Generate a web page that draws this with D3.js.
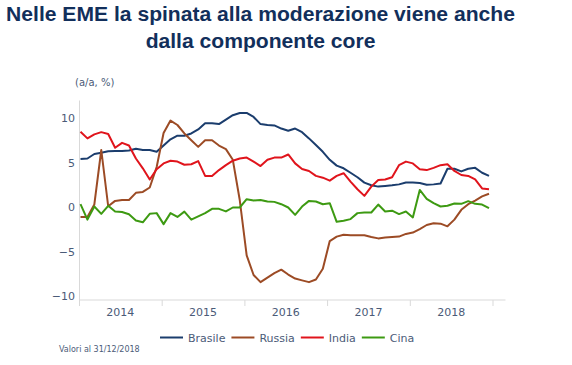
<!DOCTYPE html>
<html>
<head>
<meta charset="utf-8">
<script src="https://cdn.jsdelivr.net/npm/d3@7"></script>
<style>
  body { margin: 0; background: #fff; }
  svg { display: block; }
</style>
</head>
<body>
<div id="chart"></div>
<script>
// core inflation, a/a %, monthly Jan 2014 - Dec 2018
const years = [2014, 2015, 2016, 2017, 2018];
const yTicks = [-10, -5, 0, 5, 10];
const seriesNames = ["Brasile", "Russia", "India", "Cina"];
const seriesColors = ["#1b3d6d", "#9c4b25", "#e0141c", "#3d9a12"];

const brasile = [5.4, 5.45, 5.95, 6.1, 6.25, 6.3, 6.3, 6.35, 6.55, 6.4, 6.4, 6.2,
  6.9, 7.6, 8.0, 8.0, 8.25, 8.7, 9.4, 9.4, 9.3, 9.8, 10.3, 10.55,
  10.55, 10.1, 9.3, 9.2, 9.15, 8.8, 8.55, 8.8, 8.4, 7.7, 6.95, 6.2,
  5.3, 4.65, 4.35, 3.85, 3.35, 2.75, 2.45, 2.3, 2.38, 2.45, 2.55, 2.75,
  2.75, 2.7, 2.5, 2.55, 2.65, 4.3, 4.3, 4.0, 4.3, 4.4, 3.85, 3.5];
const russia = [-1.1, -1.1, 0.3, 6.4, 0.1, 0.7, 0.8, 0.8, 1.6, 1.7, 2.2, 4.5,
  8.3, 9.7, 9.2, 8.25, 7.5, 6.75, 7.5, 7.5, 6.9, 6.5, 5.3, 0.8,
  -5.4, -7.6, -8.4, -7.9, -7.4, -7.0, -7.55, -8.0, -8.2, -8.4, -8.1, -6.9,
  -3.8, -3.3, -3.1, -3.15, -3.15, -3.15, -3.35, -3.5, -3.4, -3.35, -3.3, -3.0,
  -2.85, -2.45, -2.0, -1.8, -1.85, -2.15, -1.4, -0.3, 0.33, 0.74, 1.2, 1.5];
const india = [8.45, 7.7, 8.15, 8.4, 8.2, 6.65, 7.2, 6.9, 5.45, 4.35, 3.1, 4.25,
  4.9, 5.2, 5.1, 4.75, 4.8, 5.15, 3.5, 3.5, 4.15, 4.7, 5.2, 5.45,
  5.55, 5.1, 4.6, 5.3, 5.55, 5.55, 5.9, 4.9, 4.27, 4.05, 3.5, 3.3,
  2.97, 3.5, 3.8, 2.86, 2.0, 1.26, 2.3, 3.05, 3.1, 3.35, 4.7, 5.1,
  4.9, 4.25, 4.15, 4.4, 4.7, 4.8, 4.05, 3.6, 3.5, 3.1, 2.1, 2.0];
const cina = [0.33, -1.4, 0.07, -0.75, 0.15, -0.5, -0.55, -0.8, -1.5, -1.7, -0.75, -0.67,
  -1.9, -0.67, -1.1, -0.5, -1.4, -1.04, -0.67, -0.19, -0.19, -0.48, -0.04, -0.04,
  0.89, 0.74, 0.81, 0.63, 0.59, 0.33, -0.04, -0.86, 0.07, 0.7, 0.63, 0.33,
  0.44, -1.64, -1.53, -1.34, -0.67, -0.6, -0.6, 0.29, -0.49, -0.4, -0.78, -0.49,
  -1.15, 1.93, 0.93, 0.44, 0.07, 0.15, 0.4, 0.37, 0.67, 0.37, 0.29, -0.11];

const months = d3.timeMonth.range(new Date(2014, 0, 1), new Date(2019, 0, 1));

const W = 572, H = 365;
const textColor = "#4b5b78";
const axisColor = "#d9d9d9";

function makeSvg(container) {
    return d3.select(container).append("svg")
        .attr("width", W)
        .attr("height", H)
        .style("font-family", "'DejaVu Sans', sans-serif");
}

function fitText(sel, targetWidth) {
    // shrink/grow title font so the line spans the same width as the original
    const node = sel.node();
    const size = parseFloat(sel.attr("font-size"));
    const w = node.getComputedTextLength();
    sel.attr("font-size", (size * targetWidth / w).toFixed(2));
}

function drawTitle(svg) {
    const t1 = svg.append("text")
        .attr("x", 260.5).attr("y", 20.7)
        .attr("text-anchor", "middle")
        .attr("font-family", "'Liberation Sans', Arial, sans-serif")
        .attr("font-weight", "bold")
        .attr("font-size", 20)
        .attr("fill", "#122f5b")
        .text("Nelle EME la spinata alla moderazione viene anche");
    fitText(t1, 509);
    const t2 = svg.append("text")
        .attr("x", 260.5).attr("y", 48.3)
        .attr("text-anchor", "middle")
        .attr("font-family", "'Liberation Sans', Arial, sans-serif")
        .attr("font-weight", "bold")
        .attr("font-size", t1.attr("font-size"))
        .attr("fill", "#122f5b")
        .text("dalla componente core");

    svg.append("text")
        .attr("x", 75).attr("y", 85.5)
        .attr("font-size", 10)
        .attr("fill", textColor)
        .text("(a/a, %)");
}

function drawAxes(svg, yScale, yearScale) {
    // y axis: plain line + labels
    const yAxis = svg.append("g")
        .attr("transform", "translate(79,0)")
        .call(d3.axisLeft(yScale).tickValues(yTicks).tickSize(0).tickPadding(4));
    yAxis.select(".domain").attr("stroke", axisColor).attr("stroke-width", 1);
    yAxis.selectAll("text")
        .attr("font-size", 11)
        .attr("font-family", "'DejaVu Sans', sans-serif")
        .attr("fill", textColor);

    // x axis: year boundaries as ticks, year labels in the middle
    const bounds = years.concat([years[years.length - 1] + 1]);
    const xAxis = svg.append("g")
        .attr("transform", "translate(0,300)")
        .call(d3.axisBottom(yearScale).tickValues(bounds).tickSize(6).tickFormat(""));
    xAxis.select(".domain").remove();
    xAxis.append("line")
        .attr("x1", yearScale.range()[0]).attr("x2", 505.5)
        .attr("stroke", axisColor);
    xAxis.selectAll(".tick line").attr("stroke", axisColor);

    svg.append("g")
        .selectAll("text")
        .data(years)
        .enter().append("text")
        .attr("x", d => yearScale(d + 0.5))
        .attr("y", 316)
        .attr("text-anchor", "middle")
        .attr("font-size", 11)
        .attr("fill", textColor)
        .text(d => d);
}

function drawLines(svg, x, y) {
    const allSeries = [brasile, russia, india, cina];
    const line = d3.line()
        .x((d, i) => x(months[i]))
        .y(d => y(d));
    svg.append("g")
        .selectAll("path")
        .data(allSeries)
        .enter().append("path")
        .attr("d", d => line(d))
        .attr("fill", "none")
        .attr("stroke", (d, i) => seriesColors[i])
        .attr("stroke-width", 2)
        .attr("stroke-linejoin", "round");
}

function drawLegend(svg) {
    const g = svg.append("g").attr("font-size", 11);
    let cx = 160;
    seriesNames.forEach((name, i) => {
        g.append("line")
            .attr("x1", cx).attr("x2", cx + 23)
            .attr("y1", 337.5).attr("y2", 337.5)
            .attr("stroke", seriesColors[i])
            .attr("stroke-width", 2);
        const t = g.append("text")
            .attr("x", cx + 28).attr("y", 341.5)
            .attr("fill", textColor)
            .text(name);
        cx += 28 + t.node().getComputedTextLength() + 6;
    });

    svg.append("text")
        .attr("x", 59).attr("y", 352)
        .attr("font-size", 8)
        .attr("fill", textColor)
        .text("Valori al 31/12/2018");
}

function draw(container) {
    const svg = makeSvg(container);
    const y = d3.scaleLinear().domain([-10.4, 12]).range([300, 100]);
    const x = d3.scalePoint().domain(months).range([80.5, 489]);
    const yearScale = d3.scaleLinear().domain([2014, 2019]).range([79, 492.5]);

    drawTitle(svg);
    drawAxes(svg, y, yearScale);
    drawLines(svg, x, y);
    drawLegend(svg);
}

draw(document.getElementById("chart"));
</script>
</body>
</html>
